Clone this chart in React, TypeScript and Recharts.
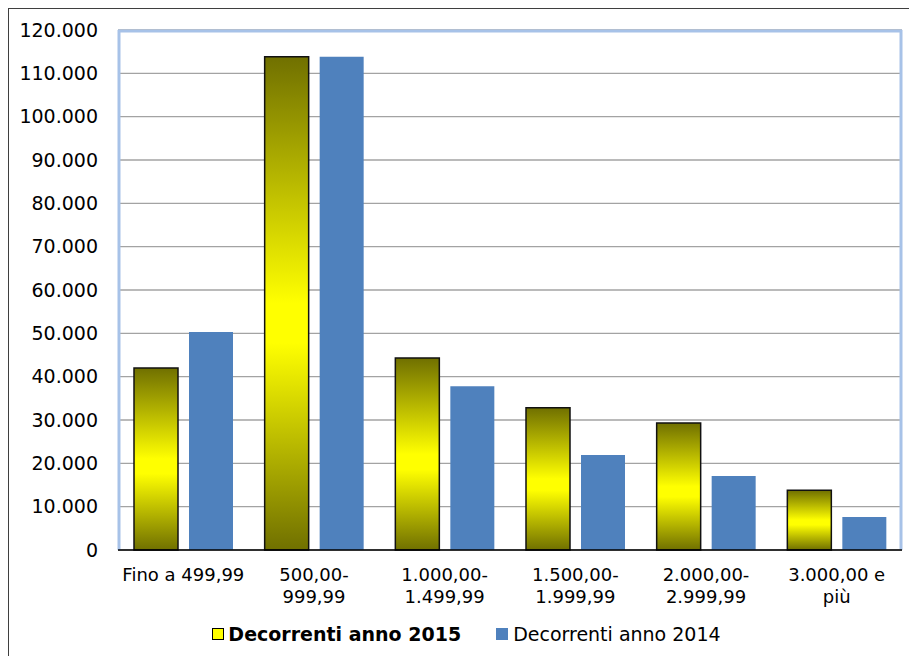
// Pensioni decorrenti per classe di importo — 2015 vs 2014, grouped bars.
import { Bar, BarChart, CartesianGrid, Legend, XAxis, YAxis } from 'recharts'

const categories = [
  'Fino a 499,99',
  '500,00-\n999,99',
  '1.000,00-\n1.499,99',
  '1.500,00-\n1.999,99',
  '2.000,00-\n2.999,99',
  '3.000,00 e\npiù',
]
const series2015 = [42000, 113800, 44300, 32800, 29300, 13800]
const series2014 = [50300, 113800, 37800, 21900, 17100, 7600]
const yTicks = [0, 10000, 20000, 30000, 40000, 50000, 60000, 70000, 80000, 90000, 100000, 110000, 120000]
const seriesNames = ['Decorrenti anno 2015', 'Decorrenti anno 2014']

const FONT = '"DejaVu Sans", Verdana, sans-serif'
const W = 900
const H = 648
const M = { top: 21, right: 7, left: 0, bottom: 11 }
const Y_AXIS_W = 109
const BLUE = '#4f81bd'
const FRAME = '#a7c2e8'

const data = categories.map((c, i) => ({ c, a: series2015[i], b: series2014[i] }))

// 120000 -> "120.000"
const fmt = (v: number) => String(v).replace(/\B(?=(\d{3})+(?!\d))/g, '.')

function CatTick(props: any) {
  const { x, y, payload } = props
  const lines = String(payload.value).split('\n')
  return (
    <text x={x} y={y + 23} textAnchor="middle" fill="#000" fontSize={18} fontFamily={FONT}>
      {lines.map((l, i) => (
        <tspan key={i} x={x} dy={i === 0 ? 0 : 22}>
          {l}
        </tspan>
      ))}
    </text>
  )
}

function LegendBox() {
  return (
    <div
      style={{
        display: 'flex',
        justifyContent: 'center',
        alignItems: 'center',
        height: 24,
        fontFamily: FONT,
        fontSize: 19,
        color: '#000',
        paddingLeft: 22,
      }}
    >
      <span style={{ display: 'flex', alignItems: 'center', marginRight: 35 }}>
        <span
          style={{
            width: 10,
            height: 10,
            background: '#ffff00',
            border: '1.5px solid #000',
            marginRight: 4,
          }}
        />
        <b>{seriesNames[0]}</b>
      </span>
      <span style={{ display: 'flex', alignItems: 'center' }}>
        <span style={{ width: 12, height: 12, background: BLUE, marginRight: 5 }} />
        {seriesNames[1]}
      </span>
    </div>
  )
}

export default function App() {
  const plotLeft = Y_AXIS_W + M.left
  const plotRight = W - M.right
  return (
    // fixed clip box: the chart frame runs past the window's right and bottom edges
    // without making the page scroll
    <div style={{ position: 'fixed', left: 8, top: 8, width: 901, height: 648, overflow: 'hidden' }}>
      <div
        style={{
          width: W,
          height: H,
          borderTop: '1px solid #3f3f3f',
          borderLeft: '1px solid #3f3f3f',
          background: '#fff',
        }}
      >
        <BarChart width={W} height={H} data={data} margin={M} barSize={44} barGap={11}>
          <defs>
            <linearGradient id="olive" x1="0" y1="0" x2="0" y2="1">
              <stop offset="0" stopColor="#707000" />
              <stop offset="0.5" stopColor="#ffff00" />
              <stop offset="0.58" stopColor="#ffff00" />
              <stop offset="1" stopColor="#707000" />
            </linearGradient>
          </defs>
          <CartesianGrid vertical={false} stroke="#a3a3a3" strokeWidth={1.3} />
          {/* light-blue plot frame: left/right edges and top line */}
          <CartesianGrid
            horizontal={false}
            verticalPoints={[plotLeft + 1, plotRight - 1]}
            stroke={FRAME}
            strokeWidth={3}
          />
          <CartesianGrid
            vertical={false}
            horizontalPoints={[M.top + 1]}
            stroke={FRAME}
            strokeWidth={3}
          />
          <XAxis
            dataKey="c"
            height={72}
            interval={0}
            tickLine={false}
            axisLine={{ stroke: '#000', strokeWidth: 1.3 }}
            tick={<CatTick />}
          />
          <YAxis
            width={Y_AXIS_W}
            domain={[0, 120000]}
            ticks={yTicks}
            tickFormatter={fmt}
            tickLine={false}
            axisLine={false}
            tickMargin={14}
            tick={{ fill: '#000', fontSize: 19, fontFamily: FONT }}
          />
          <Legend verticalAlign="bottom" content={<LegendBox />} />
          <Bar
            dataKey="a"
            name={seriesNames[0]}
            fill="url(#olive)"
            stroke="#111"
            strokeWidth={1.5}
            isAnimationActive={false}
          />
          <Bar dataKey="b" name={seriesNames[1]} fill={BLUE} isAnimationActive={false} />
        </BarChart>
      </div>
    </div>
  )
}
